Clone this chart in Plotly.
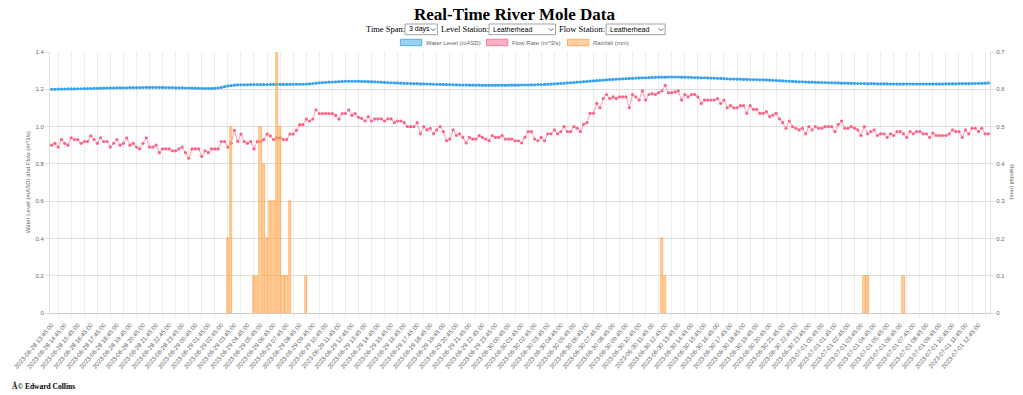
import pandas as pd
import plotly.graph_objects as go

# ---------------- data ----------------
START = "2023-06-28 13:45:00"
N_POINTS = 288  # 3 days at 15-minute steps
times = pd.date_range(START, periods=N_POINTS, freq="15min")

water_level = (
    [1.200, 1.200, 1.201, 1.201, 1.201, 1.202, 1.202, 1.202, 1.203, 1.203, 1.204, 1.204, 1.204, 1.205, 1.205, 1.206, 1.206, 1.207]
    + [1.207, 1.207, 1.208, 1.208, 1.208, 1.208, 1.209, 1.209, 1.209, 1.209, 1.209, 1.210, 1.210, 1.210, 1.210]
    + [1.210, 1.210, 1.209, 1.209, 1.209, 1.208, 1.208, 1.208, 1.207, 1.207, 1.206, 1.206, 1.205, 1.205, 1.204]
    + [1.204, 1.204, 1.205]
    + [1.207, 1.210, 1.214, 1.218, 1.220, 1.222, 1.224]
    + [1.224, 1.224, 1.224, 1.225, 1.225, 1.225, 1.225, 1.225, 1.225, 1.226, 1.226, 1.226, 1.226, 1.226, 1.226, 1.226, 1.227, 1.227, 1.227, 1.227, 1.228]
    + [1.229, 1.231, 1.233, 1.235, 1.236, 1.237, 1.238, 1.239, 1.240, 1.241, 1.242, 1.243]
    + [1.243, 1.243, 1.243, 1.243, 1.242, 1.242, 1.241, 1.241, 1.240, 1.239, 1.238, 1.237, 1.236, 1.235]
    + [1.234, 1.234, 1.233, 1.232, 1.232, 1.231, 1.230, 1.230, 1.229, 1.229, 1.228]
    + [1.228, 1.227, 1.227, 1.226, 1.226, 1.225, 1.225, 1.224, 1.224, 1.223]
    + [1.223, 1.223, 1.222, 1.222, 1.222, 1.222, 1.221, 1.221, 1.221, 1.221]
    + [1.221, 1.221, 1.221, 1.221, 1.222, 1.222, 1.222, 1.222, 1.223, 1.223]
    + [1.223, 1.224, 1.224, 1.225, 1.225, 1.226, 1.227, 1.228, 1.229, 1.230]
    + [1.231, 1.232, 1.234, 1.235, 1.236, 1.238, 1.239, 1.241, 1.242, 1.244]
    + [1.245, 1.246, 1.248, 1.249, 1.251, 1.252, 1.253, 1.254, 1.255, 1.256, 1.257]
    + [1.258, 1.259, 1.260, 1.261, 1.262, 1.262, 1.263, 1.264, 1.264, 1.265, 1.265]
    + [1.265, 1.266, 1.266, 1.266, 1.266, 1.265, 1.265, 1.264, 1.264, 1.263]
    + [1.263, 1.262, 1.262, 1.261, 1.260, 1.260, 1.259, 1.258, 1.257, 1.256, 1.255]
    + [1.255, 1.254, 1.254, 1.253, 1.253, 1.252, 1.252, 1.252, 1.251, 1.251]
    + [1.250, 1.249, 1.248, 1.247, 1.246, 1.245, 1.244, 1.243, 1.242, 1.241, 1.240, 1.240, 1.239]
    + [1.238, 1.238, 1.237, 1.237, 1.236, 1.236, 1.235, 1.235, 1.234, 1.234]
    + [1.233, 1.233, 1.233, 1.232, 1.232, 1.231, 1.231, 1.231, 1.230, 1.230]
    + [1.230, 1.229, 1.229, 1.229, 1.229, 1.228, 1.228, 1.228, 1.228, 1.228]
    + [1.228, 1.228, 1.228, 1.228, 1.228, 1.228, 1.228, 1.228, 1.228, 1.228]
    + [1.228, 1.228, 1.229, 1.229, 1.229, 1.229, 1.230, 1.230, 1.230, 1.230]
    + [1.231, 1.231, 1.232, 1.232, 1.233, 1.234]
)

flow_rate = (
    [0.90, 0.91, 0.89, 0.93, 0.91, 0.90, 0.94, 0.93, 0.93, 0.91,
     0.92, 0.92, 0.95, 0.93, 0.91, 0.94, 0.92, 0.92, 0.89, 0.91,
     0.93, 0.90, 0.91, 0.94, 0.90, 0.91, 0.89, 0.88, 0.91, 0.94,
     0.89, 0.89, 0.90, 0.86, 0.88, 0.88, 0.88, 0.87, 0.87, 0.88,
     0.89, 0.86, 0.83, 0.88, 0.88, 0.88, 0.84, 0.87, 0.86, 0.88]
    + [0.88, 0.88, 0.92, 0.92, 0.89, 0.91, 0.98, 0.92, 0.96, 0.92,
       0.91, 0.92, 0.88, 0.92, 0.92, 0.93, 0.96, 0.95, 0.93, 0.94,
       0.94, 0.93, 0.93, 0.96, 0.96, 0.98, 1.01, 1.01, 1.04, 1.03,
       1.04, 1.09, 1.07, 1.07, 1.07, 1.07, 1.07, 1.06, 1.04, 1.07,
       1.07, 1.09, 1.06, 1.07, 1.05]
    + [1.044, 1.030, 1.053, 1.030, 1.041, 1.041, 1.041, 1.030, 1.041, 1.041,
       1.021, 1.030, 1.030, 1.021, 1.000, 1.000, 1.000, 1.021, 0.961, 1.000,
       0.982, 0.991, 0.961, 0.982, 1.000, 0.973, 0.924, 0.933, 0.982, 0.952,
       0.961, 0.942, 0.912, 0.942, 0.933, 0.933, 0.952, 0.942, 0.933, 0.924,
       0.952, 0.942, 0.942, 0.952, 0.933, 0.933, 0.933, 0.924, 0.924, 0.912, 0.942,
       0.973, 0.973, 0.933, 0.924, 0.942, 0.924, 0.961, 0.961, 0.982, 0.961,
       0.973, 1.000, 0.973, 0.973, 1.000, 0.991, 0.973, 1.012, 1.021, 1.071,
       1.071, 1.124, 1.101, 1.150, 1.172, 1.150, 1.159, 1.150, 1.159, 1.159,
       1.159, 1.101, 1.172, 1.159, 1.142, 1.191, 1.142, 1.172, 1.177,
       1.172, 1.182, 1.191, 1.221, 1.182, 1.182]
    + [1.186, 1.191, 1.142, 1.172, 1.159, 1.172, 1.172, 1.159, 1.124, 1.142,
       1.142, 1.142, 1.142, 1.150, 1.124, 1.142, 1.101, 1.112, 1.101, 1.101,
       1.112, 1.112, 1.071, 1.112, 1.092, 1.092, 1.071, 1.071, 1.080, 1.053,
       1.062, 1.071, 1.041, 1.021, 0.991, 1.030, 1.000, 0.991, 0.982, 0.991,
       0.961, 1.000, 0.982, 1.000, 0.991, 0.991, 1.000, 1.000, 1.000, 0.973,
       1.012, 1.030, 0.991, 0.991, 1.000, 0.991, 0.982, 0.952, 1.000, 0.961,
       0.973, 0.982, 0.952, 0.961, 0.961, 0.942, 0.961, 0.952, 0.973, 0.973,
       0.961, 0.942, 0.973, 0.961, 0.973, 0.973, 0.961, 0.961, 0.942, 0.965,
       0.952, 0.952, 0.952, 0.952, 0.961, 0.982, 0.973, 0.973, 0.942, 0.982,
       0.961, 0.991, 0.991, 0.973, 0.991, 0.961, 0.961]
)

rainfall = (
    [0, 0, 0, 0, 0, 0, 0, 0, 0, 0, 0, 0, 0, 0, 0, 0, 0, 0, 0, 0, 0, 0, 0, 0]
    + [0, 0, 0, 0, 0, 0, 0, 0, 0, 0, 0, 0, 0, 0, 0, 0, 0, 0, 0, 0, 0, 0, 0, 0]
    + [0, 0, 0, 0, 0, 0, 0.2, 0.5, 0, 0, 0, 0, 0, 0, 0.1, 0.1, 0.5, 0.4, 0.2, 0.3, 0.3, 0.7, 0.5, 0.1]
    + [0.1, 0.3, 0, 0, 0, 0, 0.1, 0, 0, 0, 0, 0, 0, 0, 0, 0, 0, 0, 0, 0, 0, 0, 0, 0]
    + [0, 0, 0, 0, 0, 0, 0, 0, 0, 0, 0, 0, 0, 0, 0, 0, 0, 0, 0, 0, 0, 0, 0, 0]
    + [0, 0, 0, 0, 0, 0, 0, 0, 0, 0, 0, 0, 0, 0, 0, 0, 0, 0, 0, 0, 0, 0, 0, 0]
    + [0, 0, 0, 0, 0, 0, 0, 0, 0, 0, 0, 0, 0, 0, 0, 0, 0, 0, 0, 0, 0, 0, 0, 0]
    + [0, 0, 0, 0, 0, 0, 0, 0, 0, 0, 0, 0, 0, 0, 0, 0, 0, 0, 0, 0.2, 0.1, 0, 0, 0]
    + [0, 0, 0, 0, 0, 0, 0, 0, 0, 0, 0, 0, 0, 0, 0, 0, 0, 0, 0, 0, 0, 0, 0, 0]
    + [0, 0, 0, 0, 0, 0, 0, 0, 0, 0, 0, 0, 0, 0, 0, 0, 0, 0, 0, 0, 0, 0, 0, 0]
    + [0, 0, 0, 0, 0, 0, 0, 0, 0, 0.1, 0.1, 0, 0, 0, 0, 0, 0, 0, 0, 0, 0, 0.1, 0, 0]
    + [0, 0, 0, 0, 0, 0, 0, 0, 0, 0, 0, 0, 0, 0, 0, 0, 0, 0, 0, 0, 0, 0, 0, 0]
)

assert len(water_level) == N_POINTS, len(water_level)
assert len(flow_rate) == N_POINTS, len(flow_rate)
assert len(rainfall) == N_POINTS, len(rainfall)

left_ticks = [0, 0.2, 0.4, 0.6, 0.8, 1.0, 1.2, 1.4]
left_labels = ["0", "0.2", "0.4", "0.6", "0.8", "1.0", "1.2", "1.4"]
right_ticks = [0, 0.1, 0.2, 0.3, 0.4, 0.5, 0.6, 0.7]
right_labels = ["0", "0.1", "0.2", "0.3", "0.4", "0.5", "0.6", "0.7"]

series_names = ["Water Level (mASD)", "Flow Rate (m^3/s)", "Rainfall (mm)"]

# ---------------- style ----------------
BLUE = "rgb(54,162,235)"
PINK = "rgb(255,99,132)"
ORANGE = "rgb(255,159,64)"
SANS = "Liberation Sans, Arial, Helvetica, sans-serif"
SERIF = "Liberation Serif, Times New Roman, serif"
GREY = "#666666"

W_PX, H_PX = 1023, 395
PL, PR, PT, PB = 43, 990, 52, 313


def px(x):
    return (x - PL) / (PR - PL)


def py(y):
    return (PB - y) / (PB - PT)


step = pd.Timedelta(minutes=15)
x_range = [times[0] - step / 2, times[-1] + step / 2]

# zero-rain intervals draw no bar (as in the original chart)
rain_plot = [v if v > 0 else None for v in rainfall]

fig = go.Figure()
fig.add_trace(go.Scatter(
    x=times, y=water_level, name=series_names[0], mode="lines+markers",
    line=dict(color=BLUE, width=1), marker=dict(color=BLUE, size=3.2),
    yaxis="y", showlegend=False))
fig.add_trace(go.Scatter(
    x=times, y=flow_rate, name=series_names[1], mode="lines+markers",
    line=dict(color="rgba(255,99,132,0.65)", width=1), marker=dict(color=PINK, size=3.2),
    yaxis="y", showlegend=False))
fig.add_trace(go.Bar(
    x=times, y=rain_plot, name=series_names[2],
    width=0.72 * step.total_seconds() * 1000,
    marker=dict(color="rgba(255,159,64,0.5)", line=dict(color=ORANGE, width=0.6)),
    yaxis="y2", showlegend=False))

annotations = []
shapes = []

# title
annotations.append(dict(x=px(511), y=py(14), xref="paper", yref="paper",
                        text="<b>Real-Time River Mole Data</b>", showarrow=False,
                        font=dict(family=SERIF, size=17, color="black"),
                        xanchor="center", yanchor="middle"))

# selector row
row_y = 29.5
labels_row = [("Time Span:", 360), ("Level Station:", 435.7), ("Flow Station:", 555)]
for txt, x0 in labels_row:
    annotations.append(dict(x=px(x0), y=py(row_y), xref="paper", yref="paper", text=txt,
                            showarrow=False, font=dict(family=SERIF, size=8.5, color="black"),
                            xanchor="left", yanchor="middle", xshift=-1))
selects = [("3 days", 400.7, 433.3), ("Leatherhead", 485.3, 552.3), ("Leatherhead", 603.3, 662.7)]
for txt, x0, x1 in selects:
    shapes.append(dict(type="rect", xref="paper", yref="paper",
                       x0=px(x0), x1=px(x1), y0=py(34.7), y1=py(24),
                       line=dict(color="#8a8a8a", width=0.8), fillcolor="white", layer="above"))
    annotations.append(dict(x=px(x0 + 2.5), y=py(row_y), xref="paper", yref="paper", text=txt,
                            showarrow=False, font=dict(family=SANS, size=7, color="black"),
                            xanchor="left", yanchor="middle", xshift=-1))
    cx = x1 - 4.3
    shapes.append(dict(type="path", xref="paper", yref="paper",
                       path=f"M {px(cx-2.3)},{py(28.4)} L {px(cx)},{py(30.7)} L {px(cx+2.3)},{py(28.4)}",
                       line=dict(color="#333333", width=0.8), layer="above"))

# legend
legend_items = [(series_names[0], BLUE, "rgba(54,162,235,0.5)", 396, 421),
                (series_names[1], PINK, "rgba(255,99,132,0.5)", 482.7, 507.7),
                (series_names[2], ORANGE, "rgba(255,159,64,0.5)", 564.3, 589.3)]
for txt, edge, fill, bx, tx in legend_items:
    shapes.append(dict(type="rect", xref="paper", yref="paper",
                       x0=px(bx), x1=px(bx + 21.5), y0=py(45.7), y1=py(39.3),
                       line=dict(color=edge, width=0.8), fillcolor=fill, layer="above"))
    annotations.append(dict(x=px(tx), y=py(42.6), xref="paper", yref="paper", text=txt,
                            showarrow=False, font=dict(family=SANS, size=6, color=GREY),
                            xanchor="left", yanchor="middle", xshift=-1))

# axis titles
annotations.append(dict(x=px(21), y=py(182), xref="paper", yref="paper",
                        text="Water Level (mASD) and Flow (m^3/s)", textangle=-90,
                        showarrow=False, font=dict(family=SANS, size=6, color=GREY),
                        xanchor="center", yanchor="middle"))
annotations.append(dict(x=px(1012), y=py(182), xref="paper", yref="paper",
                        text="Rainfall (mm)", textangle=90,
                        showarrow=False, font=dict(family=SANS, size=6, color=GREY),
                        xanchor="center", yanchor="middle"))

# footer
annotations.append(dict(x=px(4), y=py(386), xref="paper", yref="paper",
                        text="<b>Â© Edward Collins</b>", showarrow=False,
                        font=dict(family=SERIF, size=7.5, color="black"),
                        xanchor="left", yanchor="middle", xshift=-1))

fig.update_layout(
    width=W_PX, height=H_PX,
    margin=dict(l=PL, r=W_PX - PR, t=PT, b=H_PX - PB, pad=0),
    paper_bgcolor="white", plot_bgcolor="white",
    showlegend=False, hovermode=False, bargap=0,
    annotations=annotations, shapes=shapes,
    xaxis=dict(
        type="date", range=x_range,
        tickmode="linear", tick0=START, dtick=3600000,
        tickformat="%Y-%m-%d %H:%M:%S", tickangle=-50,
        tickfont=dict(family=SANS, size=6.2, color=GREY),
        ticks="outside", ticklen=5, tickcolor="rgba(0,0,0,0)",
        showgrid=False, zeroline=False,
        showline=True, linecolor="rgba(0,0,0,0.2)", linewidth=1,
        minor=dict(tickmode="linear", tick0="2023-06-28 14:15:00", dtick=3600000,
                   showgrid=True, gridcolor="rgba(0,0,0,0.07)", gridwidth=1,
                   ticks="outside", ticklen=4, tickcolor="rgba(0,0,0,0.07)"),
    ),
    yaxis=dict(
        range=[0, 1.4], tickmode="array", tickvals=left_ticks, ticktext=left_labels,
        tickfont=dict(family=SANS, size=6, color=GREY),
        showgrid=True, gridcolor="rgba(0,0,0,0.12)", gridwidth=1,
        ticks="outside", ticklen=4, tickcolor="rgba(0,0,0,0.12)",
        zeroline=False, showline=True, linecolor="rgba(0,0,0,0.12)",
    ),
    yaxis2=dict(
        range=[0, 0.7], overlaying="y", side="right",
        tickmode="array", tickvals=right_ticks, ticktext=right_labels,
        tickfont=dict(family=SANS, size=6, color=GREY),
        showgrid=False, ticks="outside", ticklen=4, tickcolor="rgba(0,0,0,0.12)",
        zeroline=False, showline=True, linecolor="rgba(0,0,0,0.12)",
    ),
)

fig.write_html("out.html", config={"displayModeBar": False},
               post_script="document.body.style.margin='0';document.body.style.overflow='hidden';")
